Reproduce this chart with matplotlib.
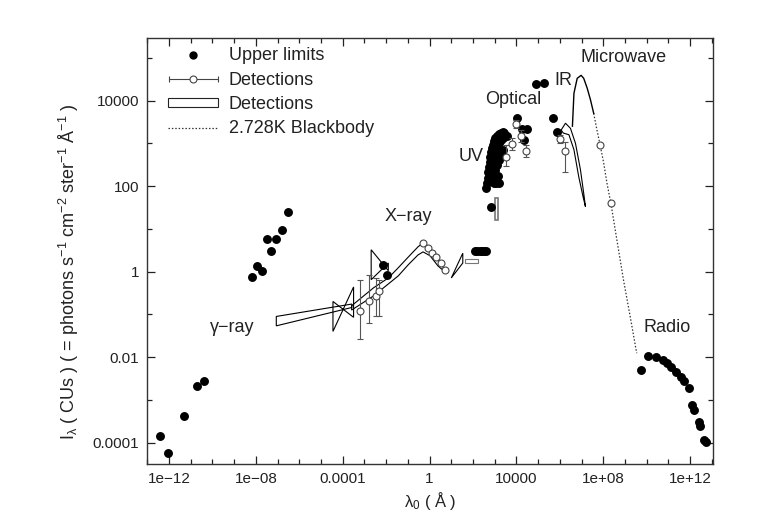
import numpy as np
import matplotlib
matplotlib.use("Agg")
import matplotlib.pyplot as plt
from matplotlib.patches import Polygon, Patch
from matplotlib.lines import Line2D
from matplotlib.legend_handler import HandlerErrorbar

plt.rcParams['font.family'] = ['Liberation Sans', 'DejaVu Sans']
plt.rcParams['mathtext.fontset'] = 'custom'
plt.rcParams['mathtext.rm'] = 'Liberation Sans'
plt.rcParams['mathtext.it'] = 'Liberation Sans'
plt.rcParams['mathtext.default'] = 'regular'

# ---------------- data (log10 lambda [A], log10 I [CUs]) ----------------
# Upper limits (filled dots)
ul_logx = [-12.43, -12.06, -11.33, -10.73, -10.41,
           -8.20, -7.97, -7.73, -7.50, -7.30, -7.06, -6.81, -6.51,
           -2.13, -1.98,
           2.10, 2.20, 2.30, 2.40, 2.50, 2.60,
           2.82, 2.98, 3.08, 3.18,
           2.59, 2.63, 2.68, 2.68, 2.73, 2.77, 2.77, 2.82, 2.86, 2.91, 2.95, 3.00,
           3.09, 3.18, 3.27, 3.36, 3.45, 3.55, 2.86, 2.95, 3.00, 3.09, 3.18, 3.27,
           3.36, 3.00, 3.09, 3.18, 3.27, 3.36, 2.91, 3.14, 3.05,
           4.01, 4.24, 4.51, 4.33,
           4.92, 5.27, 5.68, 5.88,
           9.73, 10.05, 10.43, 10.76, 10.92, 11.14, 11.34, 11.57, 11.71, 11.94,
           12.07, 12.20, 12.41, 12.47, 12.64, 12.75]
ul_logy = [-3.84, -4.24, -3.38, -2.67, -2.55,
           -0.13, 0.14, 0.02, 0.77, 0.49, 0.76, 0.97, 1.40,
           0.15, -0.08,
           0.49, 0.49, 0.49, 0.49, 0.49, 0.49,
           1.51, 2.08, 2.08, 2.08,
           1.96, 2.07, 2.19, 2.33, 2.45, 2.57, 2.68, 2.80, 2.89, 2.96, 3.06, 3.13,
           3.17, 3.22, 3.24, 3.27, 3.24, 3.17, 2.61, 2.73, 2.85, 2.94, 3.01, 3.08,
           3.13, 2.38, 2.50, 2.61, 2.75, 2.85, 2.24, 2.24, 2.10,
           3.59, 3.34, 3.34, 3.08,
           4.39, 4.41, 3.59, 3.26,
           -2.30, -1.97, -2.01, -2.07, -2.13, -2.24, -2.34, -2.46, -2.57, -2.73,
           -3.12, -3.25, -3.51, -3.62, -3.94, -3.98]

# Detections (open circles with error bars)
det_logx = [-3.19, -2.77, -2.48, -2.33,
            -0.30, -0.07, 0.11, 0.31, 0.51, 0.70,
            3.51, 3.78, 3.97, 4.20, 4.43,
            6.03, 6.26, 7.86, 8.35]
det_logy = [-0.92, -0.69, -0.58, -0.45,
            0.66, 0.55, 0.44, 0.34, 0.21, 0.04,
            2.69, 2.99, 3.45, 3.16, 2.81,
            3.10, 2.81, 2.95, 1.60]
det_loghi = [-0.19, -0.08, -0.15, -0.19,
             0.66, 0.55, 0.44, 0.34, 0.21, 0.04,
             2.96, 3.12, 3.55, 3.30, 2.95,
             3.20, 3.04, 2.95, 1.60]
det_loglo = [-1.58, -1.21, -1.05, -1.05,
             0.66, 0.55, 0.44, 0.34, 0.21, 0.04,
             2.46, 2.85, 3.35, 3.02, 2.67,
             3.00, 2.34, 2.95, 1.60]

# 2.728 K blackbody (dotted) and measured part (solid)
bb_logx = [7.56, 7.71, 7.86, 8.02, 8.17, 8.35, 8.55, 8.93, 9.24, 9.54]
bb_logy = [3.70, 3.31, 2.95, 2.54, 2.07, 1.60, 0.98, -0.19, -1.05, -1.91]
firas_logx = [6.58, 6.65, 6.80, 6.98, 7.10, 7.26, 7.41, 7.56]
firas_logy = [3.40, 4.17, 4.52, 4.59, 4.52, 4.29, 4.02, 3.70]

# Detection bands (closed outlines)
gamma_band_x = [-7.06, -3.58, -3.58, -7.06]
gamma_band_y = [-1.05, -0.76, -0.84, -1.27]
comptel_bow_x = [-4.45, -3.50, -3.50, -4.45]
comptel_bow_y = [-0.70, -1.07, -0.36, -1.40]
xbow_x = [-2.69, -1.90, -1.90, -2.69]
xbow_y = [0.51, 0.02, 0.20, -0.19]
xray_up_x = [-3.59, -2.58, -1.90, -1.44, -0.98, -0.53, -0.30, 0.02, 0.39, 0.71]
xray_up_y = [-0.80, -0.38, -0.15, 0.09, 0.34, 0.58, 0.67, 0.55, 0.27, 0.04]
xray_lo_y = [-0.90, -0.57, -0.29, -0.10, 0.16, 0.39, 0.46, 0.37, 0.13, -0.01]
euv_bow_x = [1.00, 1.53, 1.53]
euv_bow_y = [-0.15, 0.43, 0.20]
euv_box_x = [1.61, 2.22, 2.22, 1.61]
euv_box_y = [0.29, 0.29, 0.20, 0.20]
uv_box_x = [3.00, 3.17, 3.17, 3.00]
uv_box_y = [1.72, 1.72, 1.21, 1.21]
ir_out_x = [6.06, 6.26, 6.49, 6.72, 6.95, 7.10, 7.18]
ir_out_y = [3.31, 3.47, 3.35, 3.00, 2.38, 1.83, 1.52]
ir_in_x = [6.16, 6.42, 6.65, 6.87, 7.07, 7.18]
ir_in_y = [3.24, 3.20, 2.85, 2.22, 1.75, 1.52]

region_names = ["γ−ray", "X−ray", "UV", "Optical", "IR", "Microwave", "Radio"]
region_logx = [-9.07, -0.98, 1.92, 3.87, 6.16, 8.95, 10.92]
region_logy = [-1.32, 1.29, 2.69, 4.02, 4.47, 5.01, -1.30]

xtick_vals = [1e-12, 1e-8, 1e-4, 1, 1e4, 1e8, 1e12]
xtick_labels = ["1e\u221212", "1e\u221208", "0.0001", "1", "10000", "1e+08", "1e+12"]
ytick_vals = [1e-4, 1e-2, 1, 1e2, 1e4]
ytick_labels = ["0.0001", "0.01", "1", "100", "10000"]

# ---------------- plot ----------------
P = lambda v: 10 ** np.asarray(v, dtype=float)
TXT = '#222222'

fig = plt.figure(figsize=(7.73, 5.29), dpi=100)
ax = fig.add_axes([0.1906, 0.123, 0.7314, 0.8057])
ax.set_xscale('log')
ax.set_yscale('log')
ax.set_xlim(1e-13, 1.1e13)
ax.set_ylim(10 ** -4.5, 10 ** 5.47)

band_kw = dict(closed=True, fill=False, edgecolor='black', linewidth=0.8)

def poly(xs, ys, **kw):
    d = dict(band_kw); d.update(kw)
    ax.add_patch(Polygon(np.column_stack([P(xs), P(ys)]), **d))

poly(gamma_band_x, gamma_band_y)
poly(comptel_bow_x, comptel_bow_y)
poly(xbow_x, xbow_y)
poly(list(xray_up_x) + list(xray_up_x)[::-1], list(xray_up_y) + list(xray_lo_y)[::-1])
poly(euv_bow_x, euv_bow_y)
poly(euv_box_x, euv_box_y, edgecolor='#777777')
poly(uv_box_x, uv_box_y, edgecolor='#777777', linewidth=1.2)
poly(list(ir_out_x) + list(ir_in_x)[::-1], list(ir_out_y) + list(ir_in_y)[::-1])

ax.plot(P(bb_logx), P(bb_logy), linestyle=(0, (1.2, 1.5)), color='#333333', linewidth=0.9)
ax.plot(P(firas_logx), P(firas_logy), color='black', linewidth=1.0)

ax.plot(P(ul_logx), P(ul_logy), 'o', color='black', markersize=5.4, linestyle='none', zorder=4)

dy = P(det_logy)
yerr = np.vstack([dy - P(det_loglo), P(det_loghi) - dy])
ax.errorbar(P(det_logx), dy, yerr=yerr, fmt='o', mfc='white', mec='#444444', ms=5,
            mew=0.8, ecolor='#555555', elinewidth=0.8, capsize=2.5, capthick=0.8, zorder=5)

for name, lx, ly in zip(region_names, region_logx, region_logy):
    ax.text(10 ** lx, 10 ** ly, name, fontsize=13, ha='center', va='center', color=TXT)

# legend
h_ul = Line2D([], [], marker='o', color='black', linestyle='none', markersize=5)
h_det = ax.errorbar([np.nan], [np.nan], xerr=[[1], [1]], fmt='o', mfc='white', mec='#444444', ms=5,
                    mew=0.8, ecolor='#444444', elinewidth=0.8, capsize=2.5)
h_band = Patch(facecolor='white', edgecolor='#222222', linewidth=0.8)
h_bb = Line2D([], [], linestyle=(0, (1.2, 1.5)), color='#333333', linewidth=0.9)
leg = ax.legend([h_ul, h_det, h_band, h_bb],
                ["Upper limits", "Detections", "Detections", "2.728K Blackbody"],
                handler_map={h_det: HandlerErrorbar(xerr_size=1.35)},
                loc='upper left', bbox_to_anchor=(0.024, 0.994), frameon=False,
                fontsize=13, handlelength=2.77, handleheight=0.35, labelspacing=0.4,
                handletextpad=0.6, borderaxespad=0.0, labelcolor=TXT)

ax.set_xticks(xtick_vals)
ax.set_xticklabels(xtick_labels)
ax.set_yticks(ytick_vals)
ax.set_yticklabels(ytick_labels)
ax.xaxis.set_minor_locator(matplotlib.ticker.LogLocator(base=10, subs=[1.0], numticks=40))
ax.yaxis.set_minor_locator(matplotlib.ticker.LogLocator(base=10, subs=[1.0], numticks=40))
ax.xaxis.set_minor_formatter(matplotlib.ticker.NullFormatter())
ax.yaxis.set_minor_formatter(matplotlib.ticker.NullFormatter())
ax.tick_params(which='both', direction='in', top=True, right=True, labelsize=11, colors=TXT)
ax.tick_params(which='major', length=6, width=0.9, pad=6)
ax.tick_params(which='minor', length=3.5, width=0.9)
for s in ax.spines.values():
    s.set_linewidth(1.0)
    s.set_color('#333333')

ax.set_xlabel("λ$_0$ ( Å )", fontsize=12, color=TXT)
ax.xaxis.set_label_coords(0.5, -0.06)
ax.set_ylabel("I$_{λ}$ ( CUs ) ( = photons s$^{-1}$ cm$^{-2}$ ster$^{-1}$ Å$^{-1}$ )", fontsize=13, color=TXT)
ax.yaxis.set_label_coords(-0.118, 0.45)

fig.savefig("out.png", dpi=100)
